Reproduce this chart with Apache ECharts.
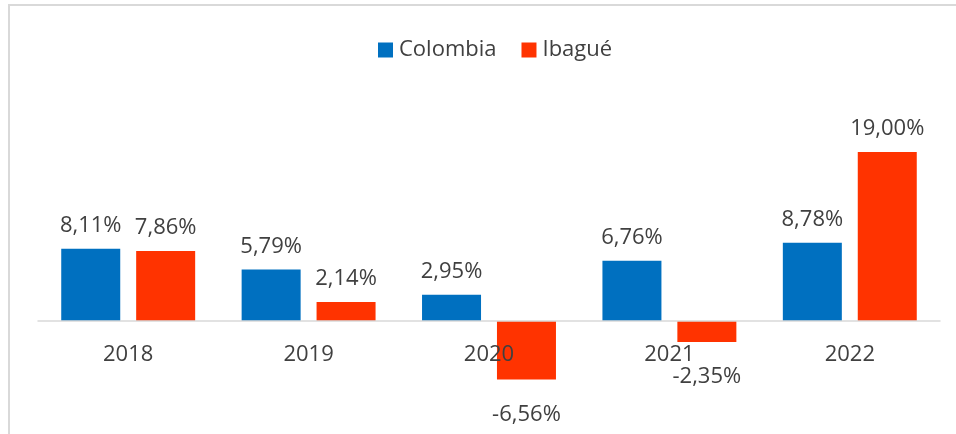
<!DOCTYPE html>
<html>
<head>
<meta charset="utf-8">
<script src="https://cdn.jsdelivr.net/npm/echarts@6/dist/echarts.min.js"></script>
<style>html,body{margin:0;padding:0;background:#fff}#c{width:956px;height:434px}</style>
</head>
<body>
<div id="c"></div>
<script>
var categories = ['2018', '2019', '2020', '2021', '2022'];
var colombia = [8.11, 5.79, 2.95, 6.76, 8.78];
var ibague = [7.86, 2.14, -6.56, -2.35, 19.00];
var seriesNames = ['Colombia', 'Ibagué'];

var FONT = '"Open Sans", "Noto Sans", sans-serif';
var TXT = '#404040';

function fmt(v) { return v.toFixed(2).replace('.', ',') + '%'; }
function mk(arr) {
  return arr.map(function (v) {
    return {
      value: v,
      label: v < 0 ? { position: 'bottom', distance: 24 } : { position: 'top', distance: 12 }
    };
  });
}

var chart = echarts.init(document.getElementById('c'), null, { renderer: 'canvas' });
chart.setOption({
  animation: false,
  backgroundColor: '#fff',
  graphic: [{
    type: 'rect', silent: true, z: -1,
    shape: { x: 9, y: 5, width: 1100, height: 600 },
    style: { fill: 'none', stroke: '#d9d9d9', lineWidth: 2 }
  }],
  legend: {
    top: 34, left: 373,
    itemWidth: 15, itemHeight: 15, itemGap: 25,
    icon: 'rect',
    textStyle: { fontFamily: FONT, fontSize: 22, color: TXT, padding: [0, 0, 0, 1] },
    data: seriesNames
  },
  grid: { left: 38, right: 16, top: 143, bottom: 113, containLabel: false, outerBoundsMode: 'none' },
  xAxis: {
    type: 'category', data: categories, z: 10,
    axisLine: { lineStyle: { color: '#d9d9d9', width: 1.5 } },
    axisTick: { show: false },
    axisLabel: { fontFamily: FONT, fontSize: 22, color: TXT, margin: 23 }
  },
  yAxis: {
    type: 'value', min: 0, max: 20, show: false,
    splitLine: { show: false }
  },
  series: [{
    name: seriesNames[0], type: 'bar', data: mk(colombia), clip: false,
    barWidth: 59, barGap: '27%',
    itemStyle: { color: '#0070C0' },
    label: { show: true, fontFamily: FONT, fontSize: 22, color: TXT, formatter: function (p) { return fmt(p.value); } }
  }, {
    name: seriesNames[1], type: 'bar', data: mk(ibague), clip: false,
    barWidth: 59, barGap: '27%',
    itemStyle: { color: '#FF3300' },
    label: { show: true, fontFamily: FONT, fontSize: 22, color: TXT, formatter: function (p) { return fmt(p.value); } }
  }]
});
</script>
</body>
</html>
